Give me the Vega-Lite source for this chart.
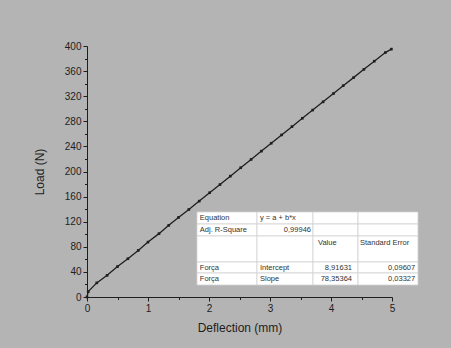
{
  "$schema": "https://vega.github.io/schema/vega-lite/v6.json",
  "width": 305,
  "height": 251,
  "autosize": "none",
  "padding": {"left": 87, "top": 46, "right": 59, "bottom": 51},
  "background": "#b4b4b4",
  "config": {
    "view": {"stroke": null},
    "font": "Liberation Sans",
    "axis": {
      "domainColor": "#1e1e1e",
      "domainWidth": 1,
      "tickColor": "#1e1e1e",
      "tickWidth": 1,
      "grid": false,
      "labelFont": "Liberation Sans",
      "labelColor": "#1e1e1e",
      "labelOverlap": false,
      "labelFlush": false,
      "titleFont": "Liberation Sans",
      "titleFontSize": 12,
      "titleFontWeight": "normal",
      "titleColor": "#1e1e1e"
    }
  },
  "datasets": {
    "pts": [
      {"x": 0, "y": 0},
      {"x": 0.02, "y": 8.5},
      {"x": 0.16, "y": 22.5},
      {"x": 0.33, "y": 34.5},
      {"x": 0.5, "y": 48.5},
      {"x": 0.67, "y": 61.0},
      {"x": 0.84, "y": 74.2},
      {"x": 1.0, "y": 87.5},
      {"x": 1.18, "y": 101.0},
      {"x": 1.34, "y": 114.2},
      {"x": 1.5, "y": 126.8},
      {"x": 1.67, "y": 139.5},
      {"x": 1.84, "y": 152.8},
      {"x": 2.01, "y": 166.2},
      {"x": 2.18, "y": 179.2},
      {"x": 2.35, "y": 192.6},
      {"x": 2.52, "y": 206.0},
      {"x": 2.69, "y": 219.2},
      {"x": 2.86, "y": 232.5},
      {"x": 3.02, "y": 245.0},
      {"x": 3.19, "y": 258.3},
      {"x": 3.36, "y": 271.5},
      {"x": 3.53, "y": 284.8},
      {"x": 3.7, "y": 297.9},
      {"x": 3.87, "y": 311.0},
      {"x": 4.04, "y": 324.2},
      {"x": 4.2, "y": 336.8},
      {"x": 4.37, "y": 349.6},
      {"x": 4.54, "y": 362.8},
      {"x": 4.71, "y": 375.8},
      {"x": 4.89, "y": 389.5},
      {"x": 4.99, "y": 395.0}
    ],
    "cells": [
      {"x0": 1.803, "x1": 2.787, "y0": 135.5, "y1": 116.3},
      {"x0": 2.787, "x1": 3.705, "y0": 135.5, "y1": 116.3},
      {"x0": 3.705, "x1": 4.443, "y0": 135.5, "y1": 116.3},
      {"x0": 4.443, "x1": 5.426, "y0": 135.5, "y1": 116.3},
      {"x0": 1.803, "x1": 2.787, "y0": 116.3, "y1": 97.2},
      {"x0": 2.787, "x1": 3.705, "y0": 116.3, "y1": 97.2},
      {"x0": 3.705, "x1": 4.443, "y0": 116.3, "y1": 97.2},
      {"x0": 4.443, "x1": 5.426, "y0": 116.3, "y1": 97.2},
      {"x0": 1.803, "x1": 2.787, "y0": 97.2, "y1": 55.8},
      {"x0": 2.787, "x1": 3.705, "y0": 97.2, "y1": 55.8},
      {"x0": 3.705, "x1": 4.443, "y0": 97.2, "y1": 55.8},
      {"x0": 4.443, "x1": 5.426, "y0": 97.2, "y1": 55.8},
      {"x0": 1.803, "x1": 2.787, "y0": 55.8, "y1": 38.2},
      {"x0": 2.787, "x1": 3.705, "y0": 55.8, "y1": 38.2},
      {"x0": 3.705, "x1": 4.443, "y0": 55.8, "y1": 38.2},
      {"x0": 4.443, "x1": 5.426, "y0": 55.8, "y1": 38.2},
      {"x0": 1.803, "x1": 2.787, "y0": 38.2, "y1": 19.1},
      {"x0": 2.787, "x1": 3.705, "y0": 38.2, "y1": 19.1},
      {"x0": 3.705, "x1": 4.443, "y0": 38.2, "y1": 19.1},
      {"x0": 4.443, "x1": 5.426, "y0": 38.2, "y1": 19.1}
    ],
    "ltext": [
      {"t": "Equation", "x": 1.85, "y": 125.9},
      {"t": "Adj. R-Square", "x": 1.85, "y": 106.0},
      {"t": "Força", "x": 1.85, "y": 46.5},
      {"t": "Força", "x": 1.85, "y": 28.4},
      {"t": "y = a + b*x", "x": 2.836, "y": 125.9},
      {"t": "Intercept", "x": 2.836, "y": 46.5},
      {"t": "Slope", "x": 2.836, "y": 28.4},
      {"t": "Value", "x": 3.787, "y": 86.1},
      {"t": "Standard Error", "x": 4.475, "y": 86.1}
    ],
    "rtext": [
      {"t": "0,99946", "x": 3.672, "y": 106.0},
      {"t": "8,91631", "x": 4.344, "y": 46.5},
      {"t": "78,35364", "x": 4.344, "y": 28.4},
      {"t": "0,09607", "x": 5.38, "y": 46.5},
      {"t": "0,03327", "x": 5.38, "y": 28.4}
    ]
  },
  "layer": [
    {
      "data": {"name": "pts"},
      "mark": {"type": "line", "color": "#1e1e1e", "strokeWidth": 1.3},
      "encoding": {
        "x": {
          "field": "x", "type": "quantitative", "title": "Deflection (mm)",
          "scale": {"domain": [0, 5], "nice": false, "zero": false},
          "axis": {
            "values": [0, 0.5, 1, 1.5, 2, 2.5, 3, 3.5, 4, 4.5, 5],
            "tickCount": 100,
            "labelExpr": "datum.value % 1 === 0 ? format(datum.value, 'd') : ''",
            "labelFontSize": {"condition": {"test": "datum.value % 1 !== 0", "value": 0}, "value": 10},
            "tickSize": {"condition": {"test": "datum.value % 1 === 0", "value": 4}, "value": 2.5},
            "labelPadding": 2,
            "titlePadding": 9
          }
        },
        "y": {
          "field": "y", "type": "quantitative", "title": "Load (N)",
          "scale": {"domain": [0, 400], "nice": false, "zero": false},
          "axis": {
            "values": [0, 20, 40, 60, 80, 100, 120, 140, 160, 180, 200, 220, 240, 260, 280, 300, 320, 340, 360, 380, 400],
            "tickCount": 100,
            "labelExpr": "datum.value % 40 === 0 ? format(datum.value, 'd') : ''",
            "labelFontSize": {"condition": {"test": "datum.value % 40 !== 0", "value": 0}, "value": 10},
            "tickSize": {"condition": {"test": "datum.value % 40 === 0", "value": 4}, "value": 2.5},
            "labelPadding": 2,
            "titlePadding": 18
          }
        }
      }
    },
    {
      "data": {"name": "pts"},
      "mark": {"type": "point", "filled": true, "shape": "square", "size": 7, "color": "#1e1e1e", "opacity": 1},
      "encoding": {
        "x": {"field": "x", "type": "quantitative", "title": "Deflection (mm)", "scale": {"domain": [0, 5], "nice": false, "zero": false}},
        "y": {"field": "y", "type": "quantitative", "title": "Load (N)", "scale": {"domain": [0, 400], "nice": false, "zero": false}}
      }
    },
    {
      "data": {"name": "cells"},
      "mark": {"type": "rect", "fill": "#ffffff", "stroke": "#d2d2d2", "strokeWidth": 0.8},
      "encoding": {
        "x": {"field": "x0", "type": "quantitative", "title": "Deflection (mm)", "scale": {"domain": [0, 5], "nice": false, "zero": false}},
        "x2": {"field": "x1"},
        "y": {"field": "y0", "type": "quantitative", "title": "Load (N)", "scale": {"domain": [0, 400], "nice": false, "zero": false}},
        "y2": {"field": "y1"}
      }
    },
    {
      "data": {"name": "ltext"},
      "mark": {"type": "text", "align": "left", "baseline": "middle", "fontSize": 7.5, "color": "#333333", "font": "Liberation Sans"},
      "encoding": {
        "x": {"field": "x", "type": "quantitative", "title": "Deflection (mm)", "scale": {"domain": [0, 5], "nice": false, "zero": false}},
        "y": {"field": "y", "type": "quantitative", "title": "Load (N)", "scale": {"domain": [0, 400], "nice": false, "zero": false}},
        "text": {"field": "t"}
      }
    },
    {
      "data": {"name": "rtext"},
      "mark": {"type": "text", "align": "right", "baseline": "middle", "fontSize": 7.5, "color": "#333333", "font": "Liberation Sans"},
      "encoding": {
        "x": {"field": "x", "type": "quantitative", "title": "Deflection (mm)", "scale": {"domain": [0, 5], "nice": false, "zero": false}},
        "y": {"field": "y", "type": "quantitative", "title": "Load (N)", "scale": {"domain": [0, 400], "nice": false, "zero": false}},
        "text": {"field": "t"}
      }
    }
  ]
}
